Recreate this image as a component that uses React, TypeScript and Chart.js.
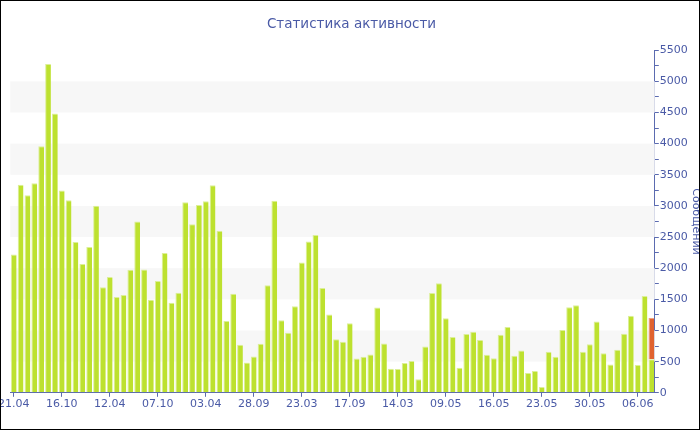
import React, { useEffect, useRef } from "react";
import { Chart, registerables } from "chart.js";

Chart.register(...registerables);

const chartTitle = "Статистика активности";
const axisTitle = "Сообщений";

const tickLabels = [
  "21.04", "16.10", "12.04", "07.10", "03.04", "28.09", "23.03",
  "17.09", "14.03", "09.05", "16.05", "23.05", "30.05", "06.06",
];

const messages = [
  2221, 3338, 3171, 3365, 3959, 5280, 4482, 3247, 3090, 2422,
  2066, 2341, 3004, 1694, 1861, 1537, 1569, 1974, 2750, 1979,
  1494, 1796, 2244, 1445, 1607, 3058, 2707, 3014, 3074, 3333,
  2600, 1154, 1591, 771, 485, 582, 787, 1728, 3085, 1165,
  966, 1391, 2093, 2427, 2535, 1683, 1257, 858, 820, 1116,
  550, 577, 615, 1370, 793, 388, 383, 478, 512, 216,
  744, 1602, 1758, 1197, 895, 404, 944, 981, 847, 610,
  555, 933, 1057, 593, 680, 318, 350, 92, 658, 577,
  1008, 1375, 1407, 658, 781, 1143, 636, 453, 690, 948,
  1235, 448, 1553, 540,
];

const todayExtra = 660;

const bandRanges = [
  [500, 1000],
  [1500, 2000],
  [2500, 3000],
  [3500, 4000],
  [4500, 5000],
];

const LABEL_EVERY = 7;
const TEXT_COLOR = "#4a5aa6";
const AXIS_COLOR = "#5b6bb0";
const FONT = "'DejaVu Sans', Verdana, sans-serif";

const categories = messages.map((_, i) =>
  i % LABEL_EVERY === 0 ? tickLabels[i / LABEL_EVERY] ?? "" : ""
);
const extraSeries = messages.map((_, i) =>
  i === messages.length - 1 ? todayExtra : null
);

const bandsPlugin = {
  id: "bands",
  beforeDatasetsDraw(chart: any) {
    const { ctx, chartArea, scales } = chart;
    const y = scales.y;
    ctx.save();
    ctx.fillStyle = "#f7f7f7";
    for (const [a, b] of bandRanges) {
      const top = y.getPixelForValue(b);
      const bottom = y.getPixelForValue(a);
      ctx.fillRect(chartArea.left, top, chartArea.right - chartArea.left, bottom - top);
    }
    ctx.restore();
  },
};

export default function App() {
  const ref = useRef<HTMLCanvasElement | null>(null);

  useEffect(() => {
    document.body.style.margin = "0";
    const canvas = ref.current;
    if (!canvas) return;
    const chart = new Chart(canvas, {
      type: "bar",
      data: {
        labels: categories,
        datasets: [
          {
            label: "Сообщения",
            data: messages,
            backgroundColor: "#bde12f",
            borderColor: "#dcef98",
            borderWidth: { left: 1, top: 1, right: 0, bottom: 0 },
            borderSkipped: "bottom",
            barPercentage: 0.84,
            categoryPercentage: 1,
            stack: "s",
          },
          {
            label: "Сегодня",
            data: extraSeries,
            backgroundColor: "#e0622f",
            borderColor: "#eea080",
            borderWidth: { left: 1, top: 1, right: 0, bottom: 0 },
            borderSkipped: "bottom",
            barPercentage: 0.84,
            categoryPercentage: 1,
            stack: "s",
          },
        ],
      },
      options: {
        responsive: false,
        animation: false,
        layout: { padding: { left: 0, right: 0, top: 0, bottom: 18 } },
        plugins: {
          legend: { display: false },
          tooltip: { enabled: false },
          title: {
            display: true,
            text: chartTitle,
            color: TEXT_COLOR,
            font: { family: FONT, size: 13.5, weight: "normal" },
            padding: { top: 16, bottom: 18 },
          },
        },
        scales: {
          x: {
            stacked: true,
            offset: true,
            grid: {
              display: true,
              drawOnChartArea: false,
              offset: false,
              tickLength: 4,
              color: (c: any) => (c.index % LABEL_EVERY === 0 ? AXIS_COLOR : "rgba(0,0,0,0)"),
            },
            border: { display: true, color: AXIS_COLOR, width: 1 },
            ticks: {
              autoSkip: false,
              maxRotation: 0,
              minRotation: 0,
              padding: 1,
              color: TEXT_COLOR,
              font: { family: FONT, size: 11 },
            },
          },
          y: {
            stacked: true,
            position: "right",
            min: 0,
            max: 5500,
            grid: {
              display: true,
              drawOnChartArea: false,
              tickLength: 4,
              color: AXIS_COLOR,
            },
            border: { display: true, color: AXIS_COLOR, width: 1 },
            ticks: {
              stepSize: 250,
              autoSkip: false,
              padding: 1,
              color: TEXT_COLOR,
              font: { family: FONT, size: 11 },
              callback: (v: any) => (Number(v) % 500 === 0 ? String(v) : ""),
            },
            title: {
              display: true,
              text: axisTitle,
              color: TEXT_COLOR,
              font: { family: FONT, size: 11 },
              padding: { top: 4, bottom: 0 },
            },
          },
        },
      },
      plugins: [bandsPlugin],
    });
    return () => chart.destroy();
  }, []);

  return (
    <div
      style={{
        position: "absolute",
        left: 0,
        top: 0,
        width: 700,
        height: 430,
        overflow: "hidden",
        background: "#fff",
      }}
    >
      <canvas
        ref={ref}
        width={709}
        height={430}
        style={{ position: "absolute", left: -3, top: 0, width: 709, height: 430 }}
      />
      <div
        style={{
          position: "absolute",
          left: 0,
          top: 0,
          width: 700,
          height: 430,
          boxSizing: "border-box",
          border: "1px solid #000",
          pointerEvents: "none",
        }}
      />
    </div>
  );
}
